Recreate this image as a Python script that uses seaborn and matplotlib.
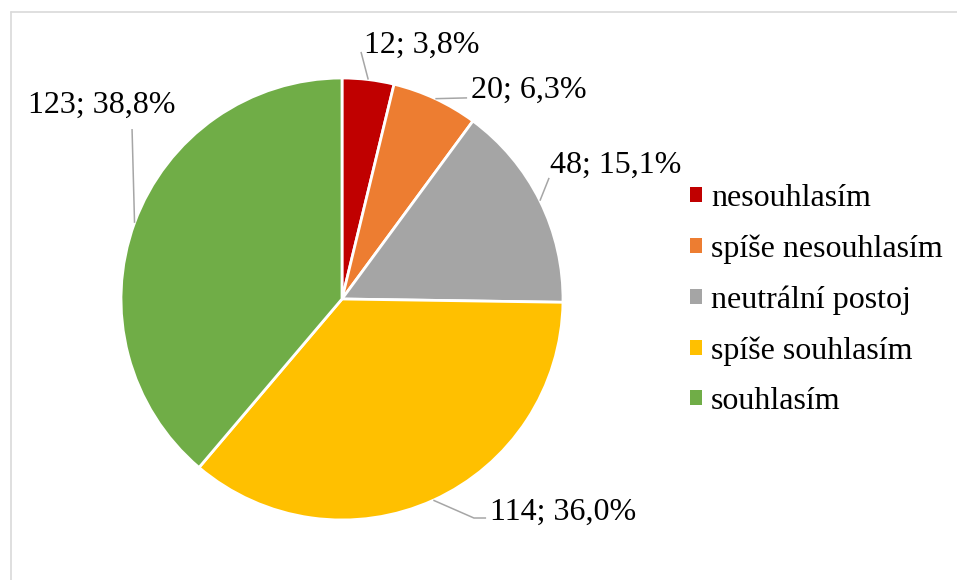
import numpy as np
import matplotlib
matplotlib.use("Agg")
import matplotlib.pyplot as plt
from matplotlib.lines import Line2D
from matplotlib.patches import Patch
import seaborn as sns

# Survey answers and counts
categories = ["nesouhlasím", "spíše nesouhlasím", "neutrální postoj",
              "spíše souhlasím", "souhlasím"]
counts = [12, 20, 48, 114, 123]
colors = ["#C00000", "#ED7D31", "#A5A5A5", "#FFC000", "#70AD47"]

# Label layout (pie units, radius = 1): text centre and leader-line path
label_pos = [(0.362, 1.149), (0.846, 0.946), (1.240, 0.606),
             (1.000, -0.964), (-1.086, 0.878)]
leader_path = [[(0.086, 1.118)],
               [(0.566, 0.910)],
               [(0.937, 0.548)],
               [(0.597, -0.991), (0.652, -0.991)],
               [(-0.950, 0.769)]]

sns.set_theme(style="white")
plt.rcParams["font.family"] = ["Liberation Serif", "DejaVu Serif"]
plt.rcParams["text.color"] = "black"

W, H, DPI = 957, 580, 100
fig = plt.figure(figsize=(W / DPI, H / DPI), dpi=DPI)
fig.patch.set_facecolor("white")

# Axes fill the figure; one data unit = pie radius
R_PX = 221.0
CX, CY = 342.0, 299.0
ax = fig.add_axes([0, 0, 1, 1])

palette = sns.color_palette(colors)
wedges, _ = ax.pie(counts, colors=palette, startangle=90, counterclock=False,
                   radius=1.0, center=(0, 0), frame=True,
                   wedgeprops=dict(edgecolor="white", linewidth=2))
ax.set_xlim(-CX / R_PX, (W - CX) / R_PX)
ax.set_ylim(-(H - CY) / R_PX, CY / R_PX)
ax.set_aspect("equal")
ax.axis("off")

total = sum(counts)
for w, n, pos, path in zip(wedges, counts, label_pos, leader_path):
    mid = np.deg2rad((w.theta1 + w.theta2) / 2)
    start = (np.cos(mid), np.sin(mid))
    pts = [start] + path
    xs, ys = zip(*pts)
    ax.plot(xs, ys, color="#A6A6A6", lw=1.1, solid_capstyle="butt")
    pct = f"{100 * n / total:.1f}".replace(".", ",")
    ax.text(pos[0], pos[1], f"{n}; {pct}%", ha="center", va="center",
            fontsize=23, color="black")

handles = [Patch(facecolor=c, edgecolor="none") for c in palette]
fig.legend(handles, categories, loc="center left",
           bbox_to_anchor=(690 / W, 1 - 300 / H), frameon=False,
           fontsize=23, handlelength=0.36, handleheight=0.36,
           handletextpad=0.3, labelspacing=0.67, borderpad=0,
           borderaxespad=0, labelcolor="black")

# Light chart-area border along the top and left
fig.add_artist(Line2D([10.5 / W, 10.5 / W], [0, 1 - 11.5 / H],
                      transform=fig.transFigure, color="#D9D9D9", lw=1.2))
fig.add_artist(Line2D([10.5 / W, 1], [1 - 11.5 / H, 1 - 11.5 / H],
                      transform=fig.transFigure, color="#D9D9D9", lw=1.2))

fig.savefig("out.png", dpi=DPI)
